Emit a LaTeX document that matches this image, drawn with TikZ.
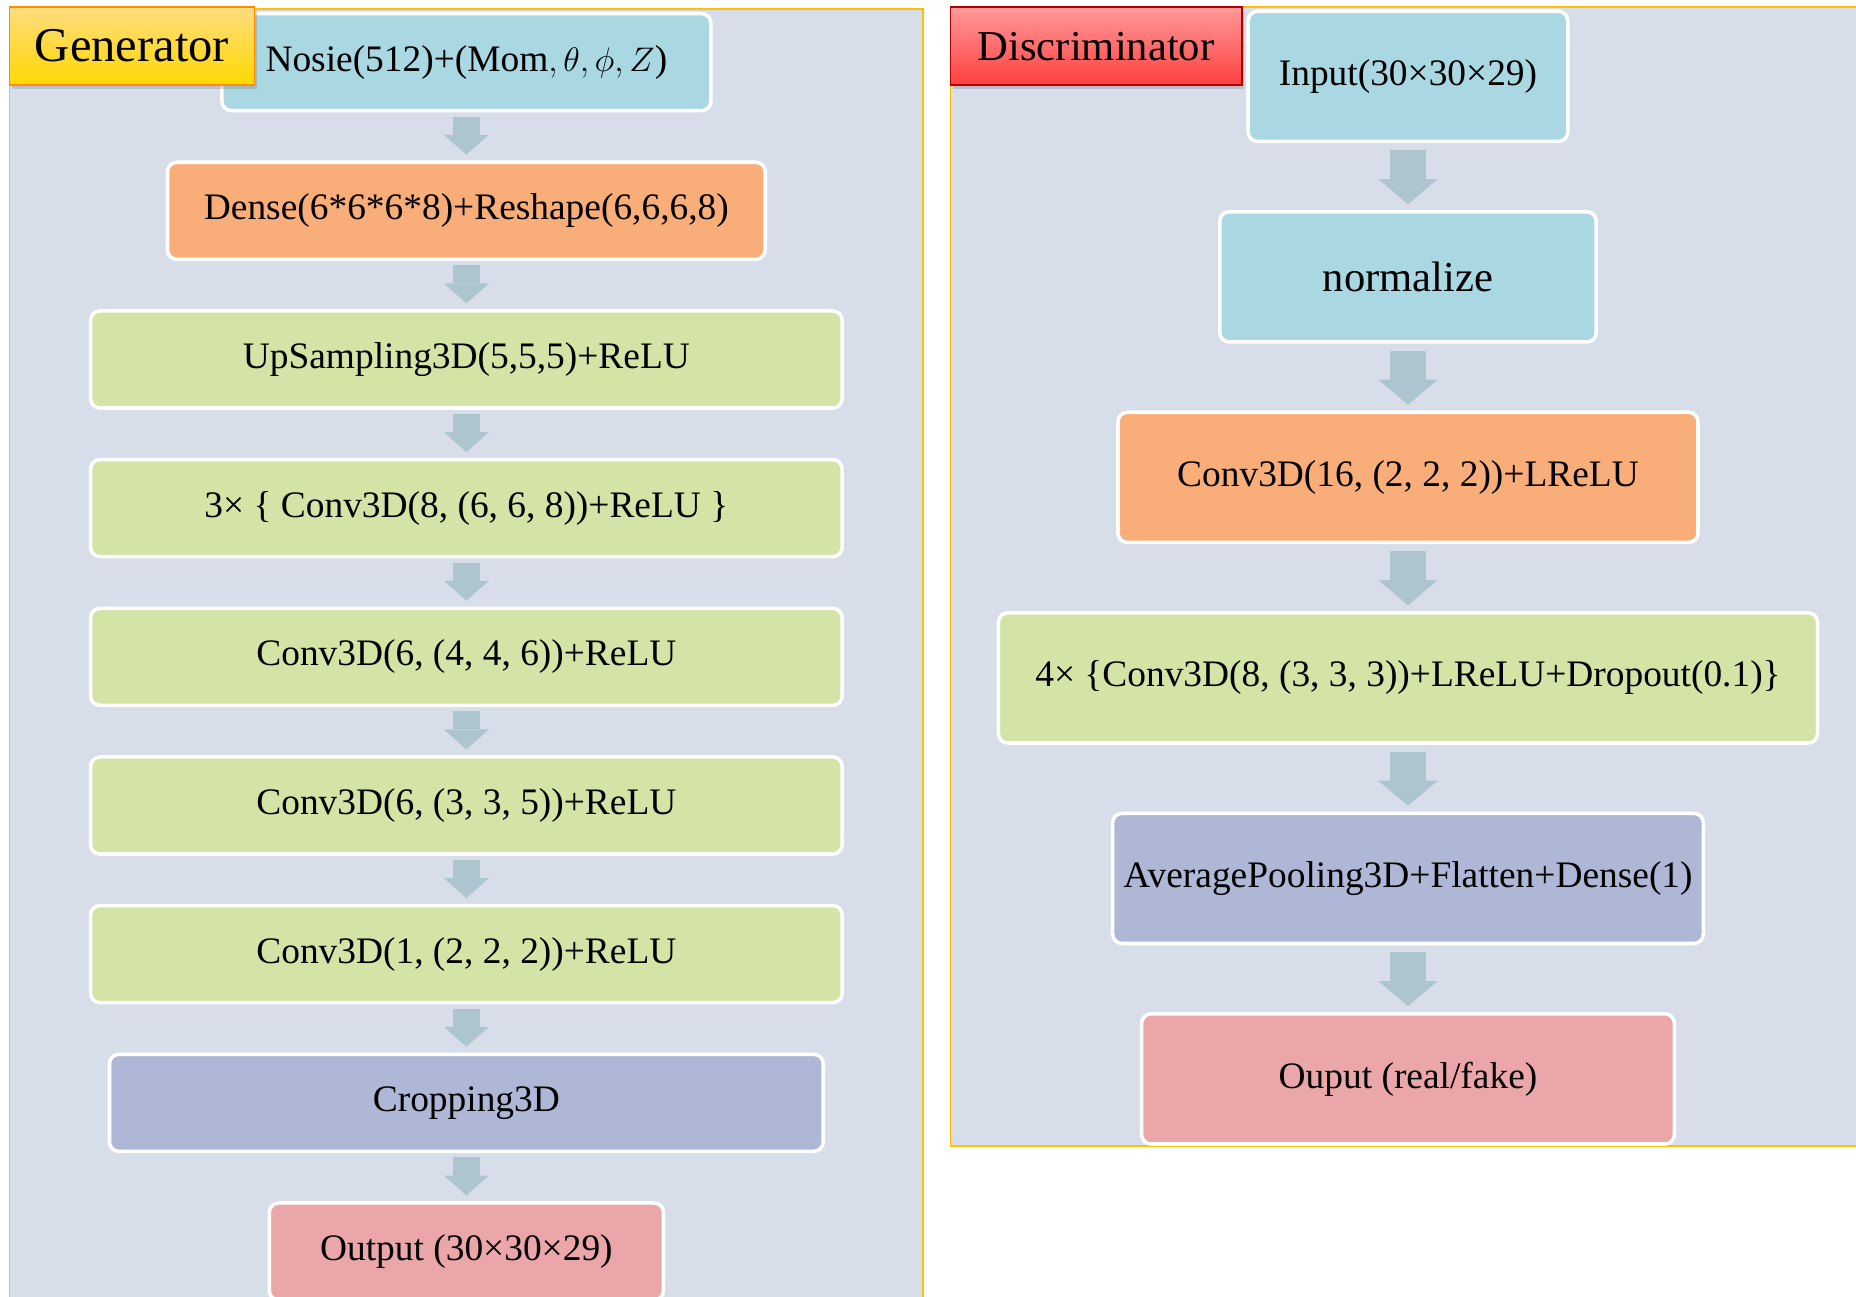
\documentclass[tikz,border=0pt]{standalone}
\usepackage{fontspec}
\setmainfont{Liberation Serif}
\usetikzlibrary{graphs, positioning, arrows.meta, shadows}

\definecolor{panelbg}{HTML}{D7DEEA}
\definecolor{panelline}{HTML}{FFC000}
\definecolor{inblue}{HTML}{A9D7E2}
\definecolor{denseorange}{HTML}{F9AD78}
\definecolor{convgreen}{HTML}{D3E4A6}
\definecolor{poolpurple}{HTML}{AEB8D6}
\definecolor{outpink}{HTML}{EAA6A8}
\definecolor{flowgrey}{HTML}{ADC5CF}

\tikzset{
    layer/.style={draw=white, line width=1.5pt, rounded corners=4pt, outer sep=0pt,
        align=center, font=\fontsize{15.8}{19}\selectfont},
    genlayer/.style={layer, minimum height=41pt},
    dislayer/.style={layer, minimum height=55pt},
    panel/.style={draw=panelline, fill=panelbg, line width=0.8pt},
    tag/.style={anchor=north west, minimum height=33pt, line width=0.8pt, outer sep=0pt,
        drop shadow={shadow xshift=1pt, shadow yshift=-1.5pt, opacity=0.3}},
    genflow/.style={line width=11.4pt, draw=flowgrey,
        >={Triangle[width=19pt, length=8.4pt, line width=0pt]},
        shorten <=2.5pt, shorten >=3.2pt},
    disflow/.style={line width=15.2pt, draw=flowgrey,
        >={Triangle[width=25pt, length=10.6pt, line width=0pt]},
        shorten <=3.7pt, shorten >=3.2pt},
}

\begin{document}
\begin{tikzpicture}[x=1pt, y=1pt]
    \useasboundingbox (0,0) rectangle (784,-547.5);
    \clip (0,0) rectangle (784,-547.5);
    \fill[white] (0,0) rectangle (784,-547.5);

    % panels
    \draw[panel] (4,-3.9) rectangle (390,-560);
    \draw[panel] (401.5,-2.8) rectangle (790,-484);

    % generator
    \node[genlayer, fill=inblue, minimum width=206.5pt, anchor=north] (Noise) at (197,-5.75) {Nosie(512)+(Mom$,\theta,\phi,Z$)};
    \node[genlayer, fill=denseorange, minimum width=252.5pt, below=21.8pt of Noise] (Dense) {Dense(6*6*6*8)+Reshape(6,6,6,8)};
    \node[genlayer, fill=convgreen, minimum width=317.5pt, below=21.8pt of Dense] (UpSampling) {UpSampling3D(5,5,5)+ReLU};
    \node[genlayer, fill=convgreen, minimum width=317.5pt, below=21.8pt of UpSampling] (Conv 1) {3× \{ Conv3D(8, (6, 6, 8))+ReLU \}};
    \node[genlayer, fill=convgreen, minimum width=317.5pt, below=21.8pt of Conv 1] (Conv 2) {Conv3D(6, (4, 4, 6))+ReLU};
    \node[genlayer, fill=convgreen, minimum width=317.5pt, below=21.8pt of Conv 2] (Conv 3) {Conv3D(6, (3, 3, 5))+ReLU};
    \node[genlayer, fill=convgreen, minimum width=317.5pt, below=21.8pt of Conv 3] (Conv 4) {Conv3D(1, (2, 2, 2))+ReLU};
    \node[genlayer, fill=poolpurple, minimum width=301.5pt, below=21.8pt of Conv 4] (Cropping) {Cropping3D};
    \node[genlayer, fill=outpink, minimum width=166.5pt, below=21.8pt of Cropping] (Gen out) {Output (30×30×29)};

    % discriminator
    \node[dislayer, fill=inblue, minimum width=135pt, anchor=north] (Input) at (594.75,-4.75) {Input(30×30×29)};
    \node[dislayer, fill=inblue, minimum width=159pt, font=\fontsize{18}{21}\selectfont, below=29.7pt of Input] (Normalize) {normalize};
    \node[dislayer, fill=denseorange, minimum width=245pt, below=29.7pt of Normalize] (Conv 16) {Conv3D(16, (2, 2, 2))+LReLU};
    \node[dislayer, fill=convgreen, minimum width=346pt, below=29.7pt of Conv 16] (Conv drop) {4× \{Conv3D(8, (3, 3, 3))+LReLU+Dropout(0.1)\}};
    \node[dislayer, fill=poolpurple, minimum width=249.5pt, below=29.7pt of Conv drop] (Pooling) {AveragePooling3D+Flatten+Dense(1)};
    \node[dislayer, fill=outpink, minimum width=225pt, below=29.7pt of Pooling] (Dis out) {Ouput (real/fake)};

    \graph[edges={genflow}]{
        (Noise) -> (Dense) -> (UpSampling) -> (Conv 1) -> (Conv 2) -> (Conv 3) -> (Conv 4) -> (Cropping) -> (Gen out);
    };
    \graph[edges={disflow}]{
        (Input) -> (Normalize) -> (Conv 16) -> (Conv drop) -> (Pooling) -> (Dis out);
    };

    % titles
    \node[tag, minimum width=103.5pt, draw=orange!90!yellow, top color=yellow!45!orange!50, bottom color=yellow!70!orange,
        font=\fontsize{20.5}{24}\selectfont] (Gen tag) at (4,-3) {Generator};
    \node[tag, minimum width=123pt, draw=red!70!black, top color=red!40, bottom color=red!75,
        font=\fontsize{18}{21}\selectfont] (Dis tag) at (401.5,-3) {Discriminator};
\end{tikzpicture}
\end{document}
